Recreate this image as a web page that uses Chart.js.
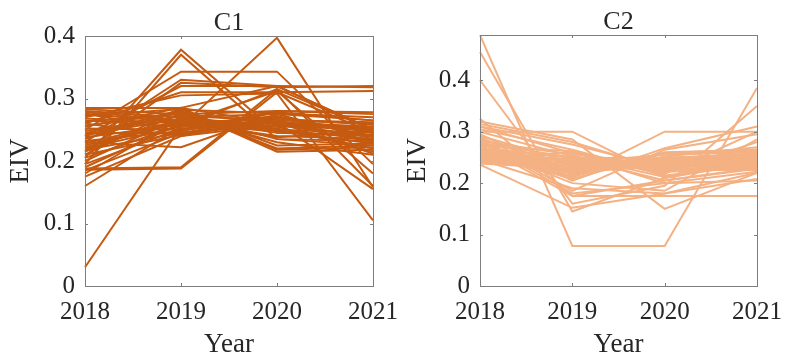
<!DOCTYPE html>
<html>
<head>
<meta charset="utf-8">
<script src="https://cdn.jsdelivr.net/npm/chart.js@4.4.0/dist/chart.umd.min.js"></script>
<style>
  html, body { margin: 0; padding: 0; background: #ffffff; }
  #wrap { position: relative; width: 793px; height: 360px; overflow: hidden; }
  canvas { position: absolute; top: 0; }
</style>
</head>
<body>
<div id="wrap">
  <canvas id="c1" width="420" height="360" style="left:0px"></canvas>
  <canvas id="c2" width="413" height="360" style="left:380px"></canvas>
</div>
<script>
// Survey years (x axis)
const years = ['2018', '2019', '2020', '2021'];

// EIV tick values per panel
const ticksC1 = [0, 0.1, 0.2, 0.3, 0.4];
const ticksC2 = [0, 0.1, 0.2, 0.3, 0.4];

// Cluster C1: EIV of each site, one array per year (same site order in each)
const c1Y2018 = [0.030, 0.205, 0.195, 0.250, 0.230, 0.215, 0.240, 0.260, 0.270, 0.188,
                 0.186, 0.230, 0.285, 0.283, 0.280, 0.278, 0.275, 0.272, 0.268, 0.265,
                 0.260, 0.256, 0.252, 0.248, 0.245, 0.242, 0.238, 0.235, 0.232, 0.228,
                 0.225, 0.220, 0.215, 0.210, 0.205, 0.200, 0.195, 0.190, 0.185, 0.180,
                 0.175, 0.160, 0.210, 0.240, 0.255, 0.222, 0.263, 0.276, 0.218, 0.245];
const c1Y2019 = [0.255, 0.378, 0.370, 0.343, 0.330, 0.325, 0.320, 0.310, 0.305, 0.190,
                 0.188, 0.222, 0.285, 0.275, 0.270, 0.265, 0.262, 0.283, 0.260, 0.255,
                 0.240, 0.278, 0.250, 0.272, 0.245, 0.268, 0.258, 0.280, 0.248, 0.265,
                 0.262, 0.255, 0.276, 0.242, 0.258, 0.270, 0.252, 0.260, 0.245, 0.268,
                 0.240, 0.255, 0.285, 0.282, 0.285, 0.262, 0.275, 0.248, 0.245, 0.272];
const c1Y2020 = [0.397, 0.245, 0.235, 0.343, 0.320, 0.318, 0.320, 0.310, 0.308, 0.315,
                 0.310, 0.275, 0.260, 0.280, 0.275, 0.255, 0.240, 0.215, 0.250, 0.265,
                 0.268, 0.220, 0.262, 0.230, 0.258, 0.245, 0.272, 0.225, 0.278, 0.252,
                 0.260, 0.270, 0.235, 0.265, 0.248, 0.255, 0.262, 0.312, 0.270, 0.250,
                 0.258, 0.315, 0.320, 0.276, 0.218, 0.238, 0.262, 0.280, 0.262, 0.265];
const c1Y2021 = [0.158, 0.240, 0.225, 0.195, 0.250, 0.320, 0.318, 0.312, 0.105, 0.250,
                 0.245, 0.235, 0.230, 0.278, 0.265, 0.255, 0.235, 0.218, 0.245, 0.260,
                 0.258, 0.225, 0.252, 0.210, 0.248, 0.242, 0.238, 0.228, 0.265, 0.220,
                 0.250, 0.240, 0.232, 0.262, 0.228, 0.215, 0.255, 0.180, 0.245, 0.235,
                 0.240, 0.160, 0.250, 0.270, 0.222, 0.248, 0.155, 0.275, 0.212, 0.232];

// Cluster C2: EIV of each site, one array per year
const c2Y2018 = [0.488, 0.455, 0.400, 0.325, 0.320, 0.300, 0.315, 0.310, 0.305, 0.295,
                 0.290, 0.285, 0.280, 0.275, 0.270, 0.268, 0.265, 0.262, 0.260, 0.258,
                 0.255, 0.252, 0.250, 0.248, 0.246, 0.244, 0.242, 0.240, 0.238, 0.236,
                 0.282, 0.278, 0.272, 0.266, 0.262, 0.256, 0.254, 0.250, 0.248, 0.244,
                 0.240, 0.238, 0.310, 0.300, 0.292, 0.286, 0.276, 0.268, 0.258, 0.246];
const c2Y2019 = [0.078, 0.145, 0.160, 0.175, 0.285, 0.300, 0.280, 0.275, 0.265, 0.210,
                 0.205, 0.185, 0.180, 0.175, 0.200, 0.250, 0.250, 0.245, 0.240, 0.235,
                 0.230, 0.225, 0.220, 0.215, 0.260, 0.248, 0.238, 0.232, 0.228, 0.152,
                 0.255, 0.250, 0.262, 0.218, 0.212, 0.242, 0.236, 0.226, 0.244, 0.222,
                 0.232, 0.246, 0.258, 0.252, 0.240, 0.234, 0.228, 0.220, 0.208, 0.190];
const c2Y2020 = [0.078, 0.210, 0.195, 0.205, 0.150, 0.210, 0.225, 0.230, 0.218, 0.300,
                 0.268, 0.265, 0.200, 0.175, 0.185, 0.248, 0.240, 0.235, 0.255, 0.245,
                 0.250, 0.240, 0.248, 0.258, 0.222, 0.232, 0.228, 0.238, 0.245, 0.180,
                 0.200, 0.205, 0.215, 0.252, 0.260, 0.230, 0.242, 0.236, 0.226, 0.248,
                 0.232, 0.238, 0.220, 0.212, 0.225, 0.242, 0.250, 0.235, 0.258, 0.180];
const c2Y2021 = [0.385, 0.240, 0.350, 0.230, 0.220, 0.245, 0.250, 0.240, 0.300, 0.300,
                 0.310, 0.295, 0.205, 0.175, 0.285, 0.258, 0.250, 0.245, 0.260, 0.238,
                 0.255, 0.232, 0.248, 0.262, 0.228, 0.235, 0.225, 0.242, 0.252, 0.220,
                 0.222, 0.228, 0.235, 0.270, 0.265, 0.245, 0.240, 0.228, 0.230, 0.250,
                 0.238, 0.232, 0.280, 0.248, 0.236, 0.256, 0.242, 0.226, 0.266, 0.208];

const SERIF = "'Liberation Serif', 'Times New Roman', serif";
const TEXT = '#262626';
const AXIS = '#7d7d7d';

// Box around the plot area with inward tick marks on all four sides, plus the panel title
const framePlugin = {
  id: 'frame',
  afterDatasetsDraw(chart, args, opts) {
    const { ctx, chartArea: a, scales: { x, y } } = chart;
    const L = 3;
    ctx.save();
    ctx.strokeStyle = AXIS;
    ctx.lineWidth = 1;
    ctx.strokeRect(Math.round(a.left) + 0.5, Math.round(a.top) + 0.5,
                   Math.round(a.right - a.left), Math.round(a.bottom - a.top));
    ctx.beginPath();
    x.ticks.forEach((t, i) => {
      const px = Math.round(x.getPixelForTick(i)) + 0.5;
      ctx.moveTo(px, a.bottom); ctx.lineTo(px, a.bottom - L);
      ctx.moveTo(px, a.top); ctx.lineTo(px, a.top + L);
    });
    y.ticks.forEach((t, i) => {
      const py = Math.round(y.getPixelForTick(i)) + 0.5;
      ctx.moveTo(a.left, py); ctx.lineTo(a.left + L, py);
      ctx.moveTo(a.right, py); ctx.lineTo(a.right - L, py);
    });
    ctx.stroke();
    ctx.fillStyle = TEXT;
    ctx.font = '26px ' + SERIF;
    ctx.textAlign = 'center';
    ctx.textBaseline = 'middle';
    ctx.fillText(opts.title, (a.left + a.right) / 2, a.top - opts.titleGap);
    ctx.restore();
  }
};

function makePanel(canvasId, title, cols, tickVals, yMax, color, pad, yTitlePad) {
  const datasets = cols[0].map((_, i) => ({
    data: cols.map(c => c[i]),
    borderColor: color,
    borderWidth: 2,
    pointRadius: 0,
    pointHoverRadius: 0,
    fill: false,
    tension: 0
  }));
  return new Chart(document.getElementById(canvasId), {
    type: 'line',
    data: { labels: years, datasets },
    options: {
      responsive: false,
      animation: false,
      events: [],
      layout: { padding: pad },
      plugins: {
        legend: { display: false },
        tooltip: { enabled: false },
        title: { display: false },
        frame: { title, titleGap: 13 }
      },
      scales: {
        x: {
          type: 'category',
          offset: false,
          grid: { display: false, drawTicks: false },
          border: { display: false },
          ticks: { color: TEXT, font: { family: SERIF, size: 25 }, padding: 11, maxRotation: 0, autoSkip: false },
          title: { display: true, text: 'Year', color: TEXT, font: { family: SERIF, size: 27 }, padding: { top: 0, bottom: -1 } },
          afterFit: s => { s.height = 74; }
        },
        y: {
          min: 0,
          max: yMax,
          grid: { display: false, drawTicks: false },
          border: { display: false },
          ticks: { color: TEXT, font: { family: SERIF, size: 25 }, padding: 10, includeBounds: false },
          afterBuildTicks: s => { s.ticks = tickVals.map(v => ({ value: v })); },
          title: { display: true, text: 'EIV', color: TEXT, font: { family: SERIF, size: 27 }, padding: { top: yTitlePad, bottom: 0 } },
          afterFit: s => { s.width = 85; }
        }
      }
    },
    plugins: [framePlugin]
  });
}

makePanel('c1', 'C1', [c1Y2018, c1Y2019, c1Y2020, c1Y2021], ticksC1, 0.4, '#C55A11',
          { top: 36, right: 47, bottom: 0, left: 0 }, 5);
makePanel('c2', 'C2', [c2Y2018, c2Y2019, c2Y2020, c2Y2021], ticksC2, 0.488, '#F4B183',
          { top: 35, right: 25, bottom: 0, left: 15 }, 7);
</script>
</body>
</html>
